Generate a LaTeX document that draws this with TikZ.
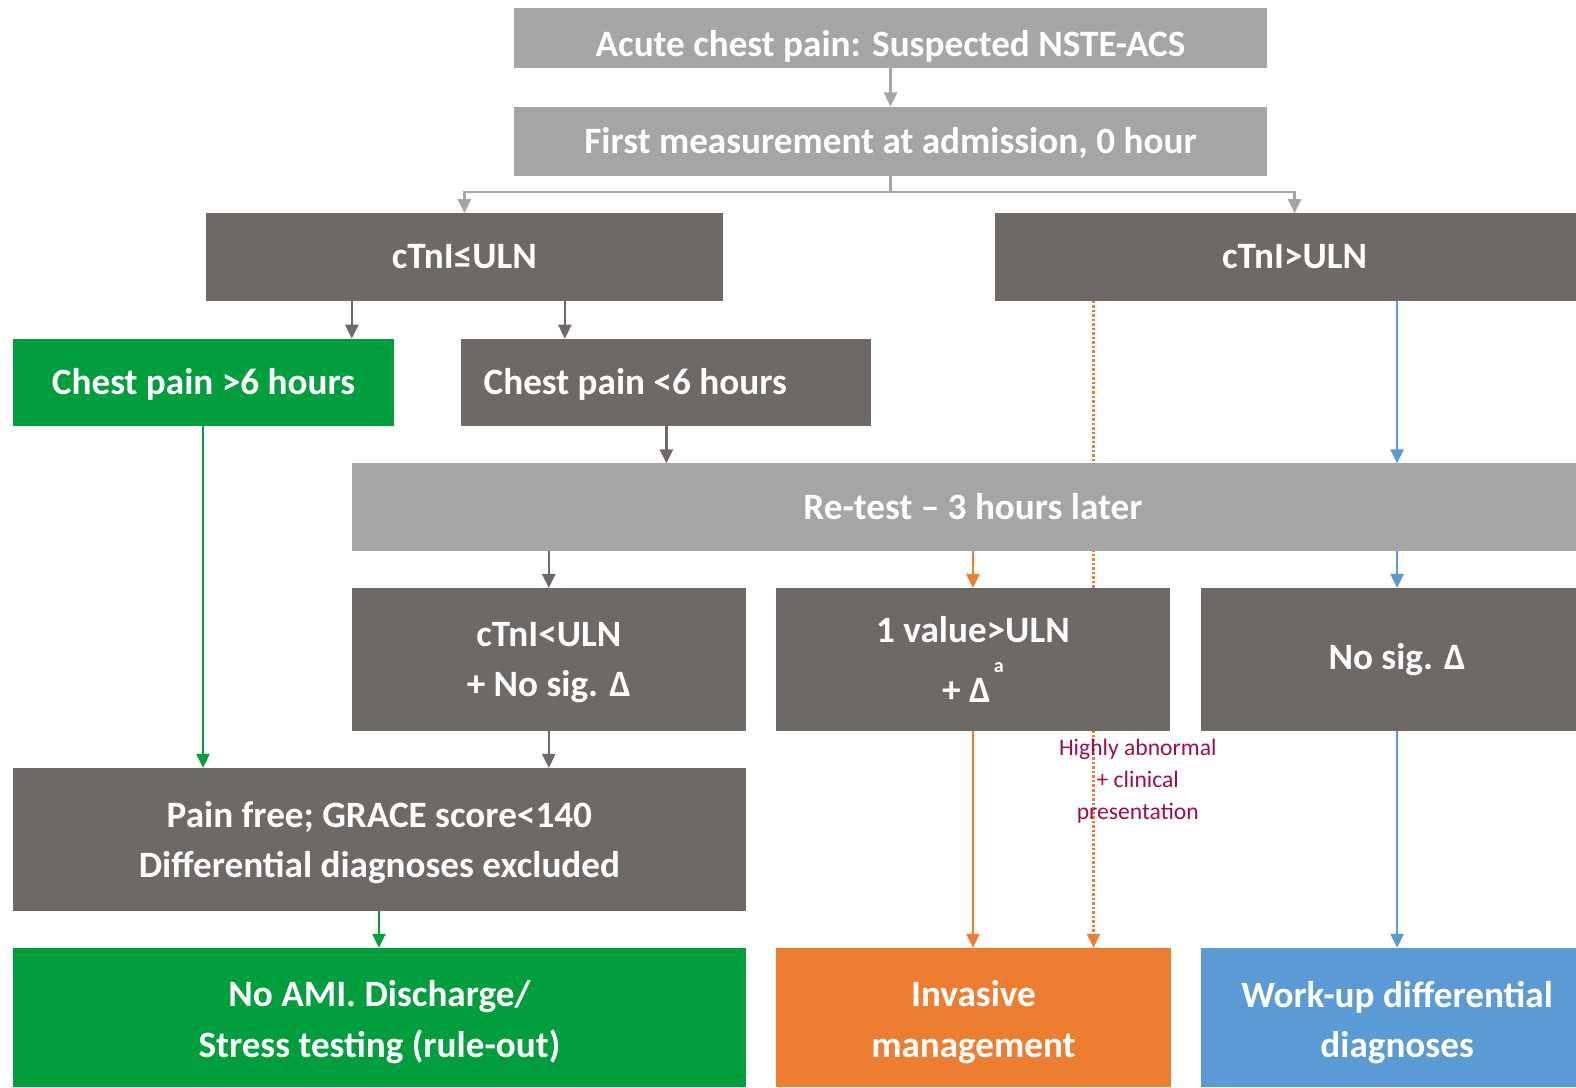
\documentclass[tikz,border=0pt]{standalone}
\usepackage{fontspec}
\setmainfont{Carlito}
\usetikzlibrary{arrows.meta,backgrounds}
\definecolor{lgray}{HTML}{A5A5A5}
\definecolor{dgray}{HTML}{6E6867}
\definecolor{mgreen}{HTML}{009E3D}
\definecolor{morange}{HTML}{ED7D31}
\definecolor{mblue}{HTML}{5B9BD5}
\definecolor{mlabel}{HTML}{9C0F4E}
\newcommand\shdn[2]{\raisebox{-#1}[\height][\depth]{#2}}
\begin{document}
\begin{tikzpicture}[x=1pt,y=-1pt,
  box/.style={inner sep=0pt, outer sep=0pt, text=white, align=center,
    font=\bfseries\fontsize{37}{50}\selectfont},
  lbox/.style={box, fill=lgray},
  dbox/.style={box, fill=dgray},
  gbox/.style={box, fill=mgreen},
  obox/.style={box, fill=morange},
  bbox/.style={box, fill=mblue},
  arr/.style={line width=2.5pt, -{Triangle[width=13pt,length=14pt]}},
  ln/.style={line width=2.5pt}
]
\clip (0,0) rectangle (1568,1082);
% column coordinates
\coordinate (c202) at (202,0);
\coordinate (c350) at (350,0);
\coordinate (c377) at (377,0);
\coordinate (c546) at (546,0);
\coordinate (c562) at (562,0);
\coordinate (c663) at (663,0);
\coordinate (c968) at (968,0);
\coordinate (c1088) at (1088,0);
\coordinate (c1390) at (1390,0);

\node[lbox, minimum width=750pt, minimum height=60pt] (A) at (886,38) {\shdn{8pt}{Acute chest pain: Suspected NSTE-ACS}};
\node[lbox, minimum width=750pt, minimum height=69pt] (B) at (886,140.5) {\shdn{2pt}{First measurement at admission, 0 hour}};
\node[dbox, minimum width=514pt, minimum height=87pt] (C) at (462,255.5) {cTnI≤ULN};
\node[dbox, minimum width=596pt, minimum height=87pt] (D) at (1288,255.5) {cTnI>ULN};
\node[gbox, minimum width=379pt, minimum height=87pt] (E) at (202.5,380.5) {\shdn{2pt}{Chest pain >6 hours}};
\node[dbox, minimum width=408pt, minimum height=87pt] (F) at (663,380.5) {\hspace*{-62pt}\shdn{2pt}{Chest pain <6 hours}};
\node[lbox, minimum width=1236pt, minimum height=87pt] (G) at (968,504.5) {Re-test – 3 hours later};
\node[dbox, minimum width=392pt, minimum height=142pt] (H) at (546,656) {\shdn{3pt}{cTnI<ULN}\\\shdn{3pt}{+ No sig. Δ}};
\node[dbox, minimum width=392pt, minimum height=142pt] (I) at (968,656) {1 value>ULN\\[10pt]+ Δ\raisebox{30pt}{\fontsize{20}{20}\selectfont\,a}};
\node[dbox, minimum width=390pt, minimum height=142pt] (J) at (1390,656) {No sig. Δ};
\node[dbox, minimum width=729pt, minimum height=142pt] (K) at (377.5,835) {\shdn{3pt}{Pain free; GRACE score<140}\\\shdn{3pt}{Differential diagnoses excluded}};
\node[gbox, minimum width=729pt, minimum height=138pt] (L) at (377.5,1012) {\shdn{5pt}{No AMI. Discharge/}\\\shdn{5pt}{Stress testing (rule-out)}};
\node[obox, minimum width=393pt, minimum height=138pt] (M) at (968.5,1012) {\shdn{5pt}{Invasive}\\\shdn{5pt}{management}};
\node[bbox, minimum width=390pt, minimum height=138pt] (N) at (1390,1012) {\shdn{5pt}{Work-up differential}\\\shdn{5pt}{diagnoses}};

\node[text=mlabel, align=center, font=\fontsize{23.5}{32}\selectfont] (lbl) at (1132,777) {Highly abnormal\\+ clinical\\presentation};

% connectors
\draw[arr, lgray] (A.south) -- (B.north);
\draw[ln, lgray] (B.south) -- ++(0,16) coordinate (split);
\draw[arr, lgray] (split) -| (C.north);
\draw[arr, lgray] (split) -| (D.north);
\draw[arr, dgray] (C.south -| c350) -- (E.north -| c350);
\draw[arr, dgray] (C.south -| c562) -- (F.north -| c562);
\draw[arr, dgray] (F.south -| c663) -- (G.north -| c663);
\draw[arr, mblue] (D.south -| c1390) -- (G.north -| c1390);
\draw[arr, dgray] (G.south -| c546) -- (H.north -| c546);
\draw[arr, morange] (G.south -| c968) -- (I.north -| c968);
\draw[arr, mblue] (G.south -| c1390) -- (J.north -| c1390);
\draw[arr, mgreen] (E.south -| c202) -- (K.north -| c202);
\draw[arr, dgray] (H.south -| c546) -- (K.north -| c546);
\draw[arr, mgreen] (K.south -| c377) -- (L.north -| c377);
\draw[arr, morange] (I.south -| c968) -- (M.north -| c968);
\draw[arr, mblue] (J.south -| c1390) -- (N.north -| c1390);
\begin{scope}[on background layer]
\draw[line width=2.5pt, morange, dotted, -{Triangle[width=13pt,length=14pt]}] (D.south -| c1088) -- (M.north -| c1088);
\end{scope}
\end{tikzpicture}
\end{document}
